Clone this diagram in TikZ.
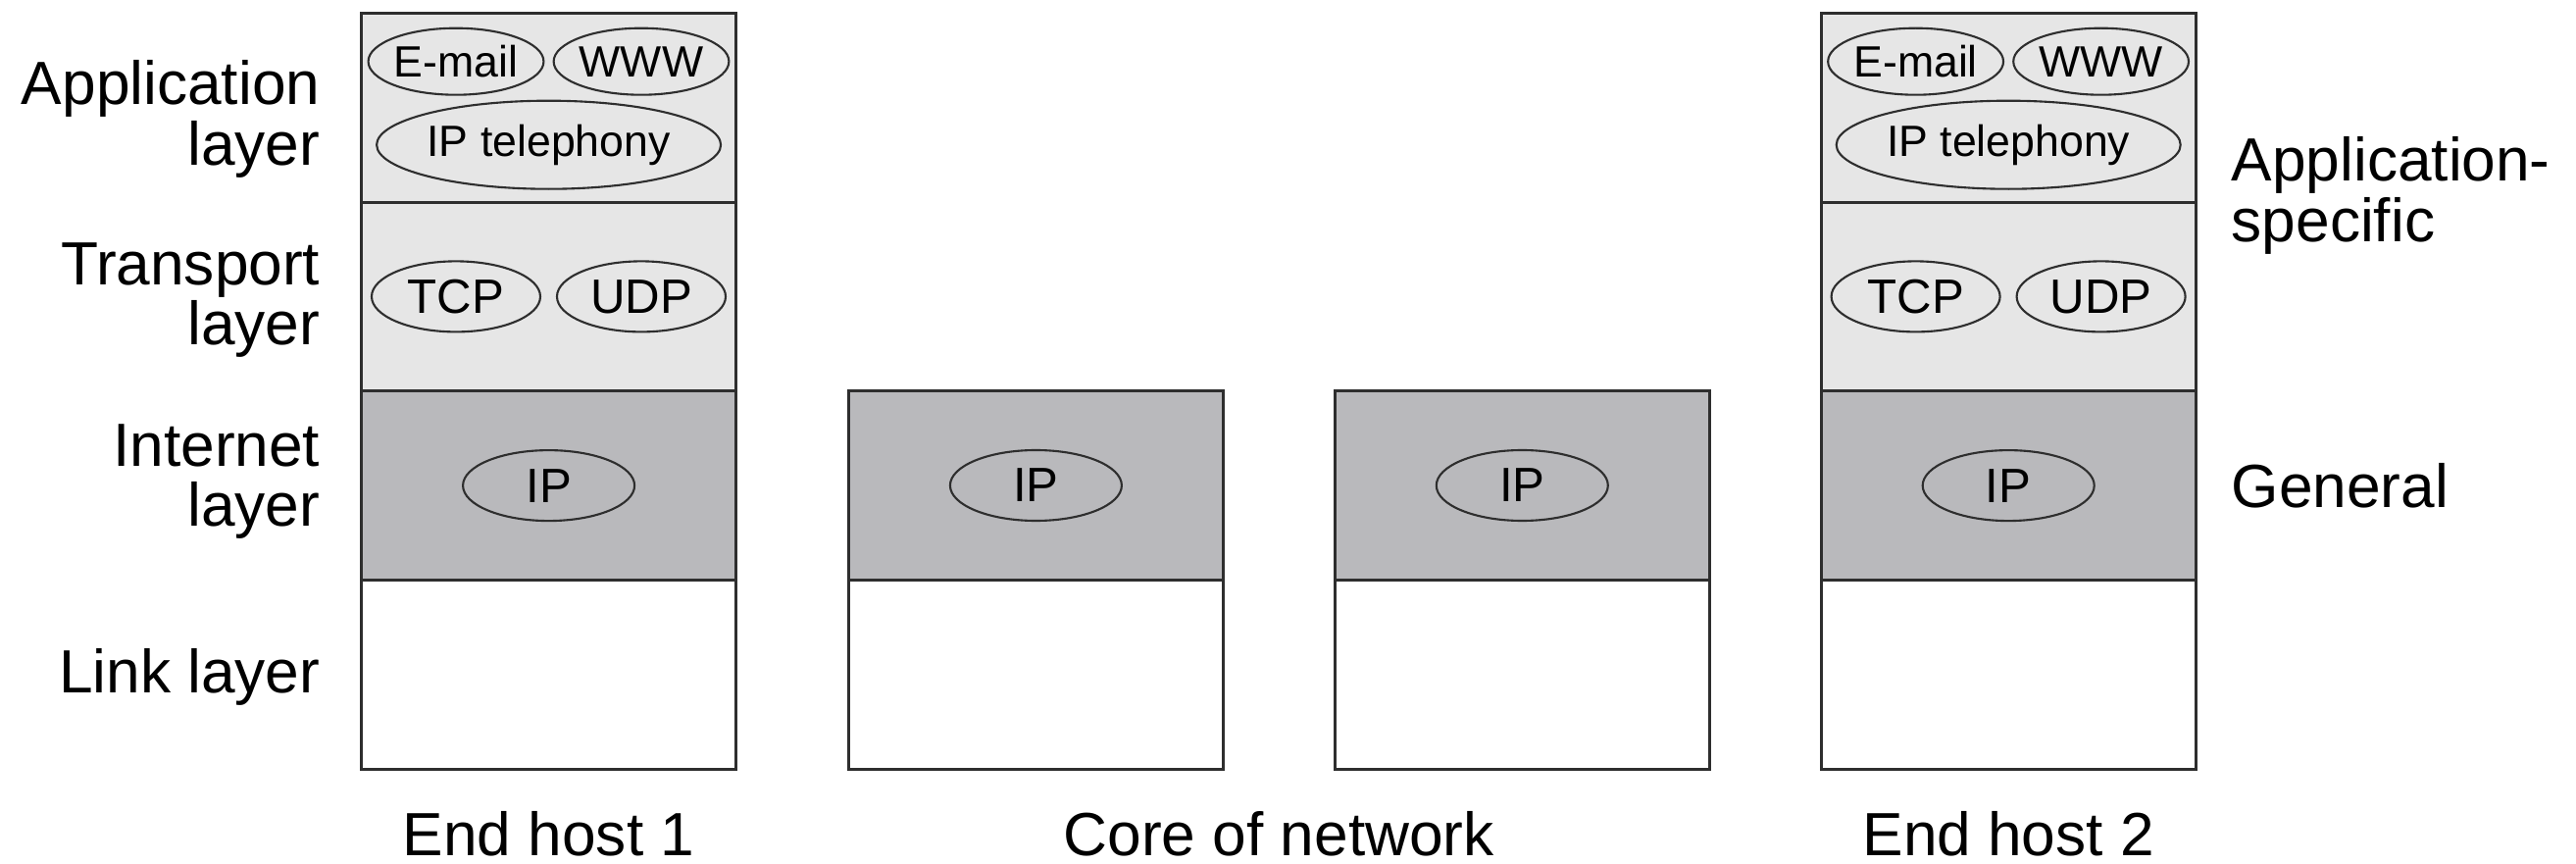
\documentclass[tikz,border=0pt]{standalone}
\usepackage{fontspec}
\setmainfont{Liberation Sans}
\usetikzlibrary{positioning,shapes.geometric}
\definecolor{upperfill}{HTML}{E6E6E6}
\definecolor{ipfill}{HTML}{B9B9BC}
\definecolor{edgegray}{HTML}{2E2E2E}
\begin{document}
\begin{tikzpicture}[
        layer/.style={draw=edgegray, line width=0.85pt, minimum width=3.82cm, minimum height=1.927cm, inner sep=0pt, outer sep=0pt},
        proto/.style={draw=edgegray, ellipse, line width=0.6pt, inner sep=0pt, minimum width=1.72cm, minimum height=0.68cm, font=\fontsize{12.7}{14}\selectfont},
        bigproto/.style={proto, minimum height=0.72cm, font=\fontsize{14}{16}\selectfont},
        side/.style={align=right, anchor=east, inner sep=0pt, font=\fontsize{17.7}{17.6}\selectfont},
        caption/.style={anchor=base, inner sep=0pt, font=\fontsize{17.7}{17.6}\selectfont}
        ]
        \useasboundingbox (0,0) rectangle (26.27,8.80);

        % end hosts: full stacks
        \node[layer, fill=upperfill] (app1) at (5.596,7.703) {};
        \node[layer, fill=upperfill, below=0pt of app1] (trans1) {};
        \node[layer, fill=ipfill, below=0pt of trans1] (inet1) {};
        \node[layer, fill=white, below=0pt of inet1] (link1) {};

        \node[layer, fill=upperfill] (app4) at (20.482,7.703) {};
        \node[layer, fill=upperfill, below=0pt of app4] (trans4) {};
        \node[layer, fill=ipfill, below=0pt of trans4] (inet4) {};
        \node[layer, fill=white, below=0pt of inet4] (link4) {};

        % core routers: internet + link only
        \node[layer, fill=ipfill] (inet2) at (10.564,3.850) {};
        \node[layer, fill=white, below=0pt of inet2] (link2) {};
        \node[layer, fill=ipfill] (inet3) at (15.523,3.850) {};
        \node[layer, fill=white, below=0pt of inet3] (link3) {};

        % protocols
        \foreach \s in {1,4} {
            \node[proto, xshift=-0.946cm, yshift=0.47cm] (email\s) at (app\s) {E-mail};
            \node[proto, xshift=0.944cm, yshift=0.47cm] (www\s) at (app\s) {WWW};
            \node[proto, minimum width=3.23cm, minimum height=0.90cm, yshift=-0.38cm] (voip\s) at (app\s) {IP telephony};
            \node[bigproto, xshift=-0.946cm] (tcp\s) at (trans\s) {TCP};
            \node[bigproto, xshift=0.944cm] (udp\s) at (trans\s) {UDP};
        }
        \foreach \s in {1,...,4}
            \node[bigproto, minimum width=1.75cm] (ip\s) at (inet\s) {IP};

        % layer names
        \node[side] at (3.27,7.59) {Application\\layer};
        \node[side] at (3.27,5.74) {Transport\\layer};
        \node[side] at (3.27,3.89) {Internet\\layer};
        \node[side] at (3.27,1.90) {Link layer};

        \node[side, align=left, anchor=west] at (22.75,6.81) {Application-\\specific};
        \node[side, anchor=west] at (22.75,3.850) {General};

        % captions
        \node[caption] at (5.596,0.08) {End host 1};
        \node[caption] at (13.043,0.08) {Core of network};
        \node[caption] at (20.482,0.08) {End host 2};
    \end{tikzpicture}
\end{document}
